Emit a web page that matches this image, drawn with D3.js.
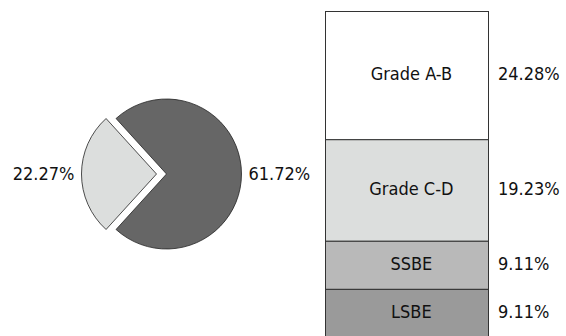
<!DOCTYPE html>
<html>
<head>
<meta charset="utf-8">
<script src="https://cdn.jsdelivr.net/npm/d3@7"></script>
<style>
  html, body { margin: 0; padding: 0; background: #fff; }
  svg { display: block; font-family: "DejaVu Sans Condensed", "DejaVu Sans", sans-serif; font-stretch: condensed; }
</style>
</head>
<body>
<svg id="chart" width="566" height="336"></svg>
<script>
// Pie: main share vs. the share broken out on the right
const pieLabels = ["Main", "Other"];
const pieValues = [61.72, 22.27];
const pieColors = ["#666666", "#dcdedd"];

// Stacked bar breakdown (top to bottom)
const barCategories = ["Grade A-B", "Grade C-D", "SSBE", "LSBE"];
const barValues = [24.28, 19.23, 9.11, 9.11];
const barColors = ["#ffffff", "#dcdedd", "#b9b9b9", "#9a9a9a"];

const svg = d3.select("#chart");
const fmt = v => v.toFixed(2) + "%";
const fontSize = 18;

// ---- pie ----
const cx = 166.5, cy = 174, r = 75, explode = 10;
const pieTotal = d3.sum(pieValues);
const otherAngle = 2 * Math.PI * pieValues[1] / pieTotal;
const start = -Math.PI / 2 + otherAngle / 2; // centre the broken-out slice at 9 o'clock
const pie = d3.pie().sort(null).startAngle(start).endAngle(start + 2 * Math.PI);
const arcs = pie(pieValues);
const arc = d3.arc().innerRadius(0).outerRadius(r);

const g = svg.append("g").attr("transform", `translate(${cx},${cy})`);
arcs.forEach((a, i) => {
  const mid = (a.startAngle + a.endAngle) / 2;
  const off = i === 1 ? explode : 0;
  const dx = Math.sin(mid) * off, dy = -Math.cos(mid) * off;
  g.append("path")
    .attr("d", arc(a))
    .attr("transform", `translate(${dx},${dy})`)
    .attr("fill", pieColors[i])
    .attr("stroke", "#222")
    .attr("stroke-width", 0.8);
  const lr = r + off + 7;
  const lx = Math.sin(mid) * lr, ly = -Math.cos(mid) * lr;
  g.append("text")
    .attr("x", lx).attr("y", ly)
    .attr("dy", "0.35em")
    .attr("text-anchor", Math.sin(mid) >= 0 ? "start" : "end")
    .attr("font-size", fontSize)
    .attr("fill", "#111")
    .text(fmt(pieValues[i]));
});

// ---- stacked bar ----
const barX = 325, barW = 163;
const barTotal = d3.sum(barValues);
const y = d3.scaleLinear().domain([0, barTotal]).range([11, 337]);
let acc = 0;
const stack = barValues.map(v => { const s = { y0: acc, y1: acc + v }; acc += v; return s; });

const bg = svg.append("g");
stack.forEach((s, i) => {
  const y0 = y(s.y0), y1 = y(s.y1);
  bg.append("rect")
    .attr("x", barX + 0.5).attr("y", y0 + 0.5)
    .attr("width", barW).attr("height", y1 - y0)
    .attr("fill", barColors[i])
    .attr("stroke", "#333")
    .attr("stroke-width", 1);
  const ym = (y0 + y1) / 2 - 1;
  bg.append("text")
    .attr("x", barX + barW * 0.53).attr("y", ym)
    .attr("dy", "0.35em")
    .attr("text-anchor", "middle")
    .attr("font-size", fontSize)
    .attr("fill", "#111")
    .text(barCategories[i]);
  bg.append("text")
    .attr("x", barX + barW + 10).attr("y", ym)
    .attr("dy", "0.35em")
    .attr("font-size", fontSize)
    .attr("fill", "#111")
    .text(fmt(barValues[i]));
});
</script>
</body>
</html>
